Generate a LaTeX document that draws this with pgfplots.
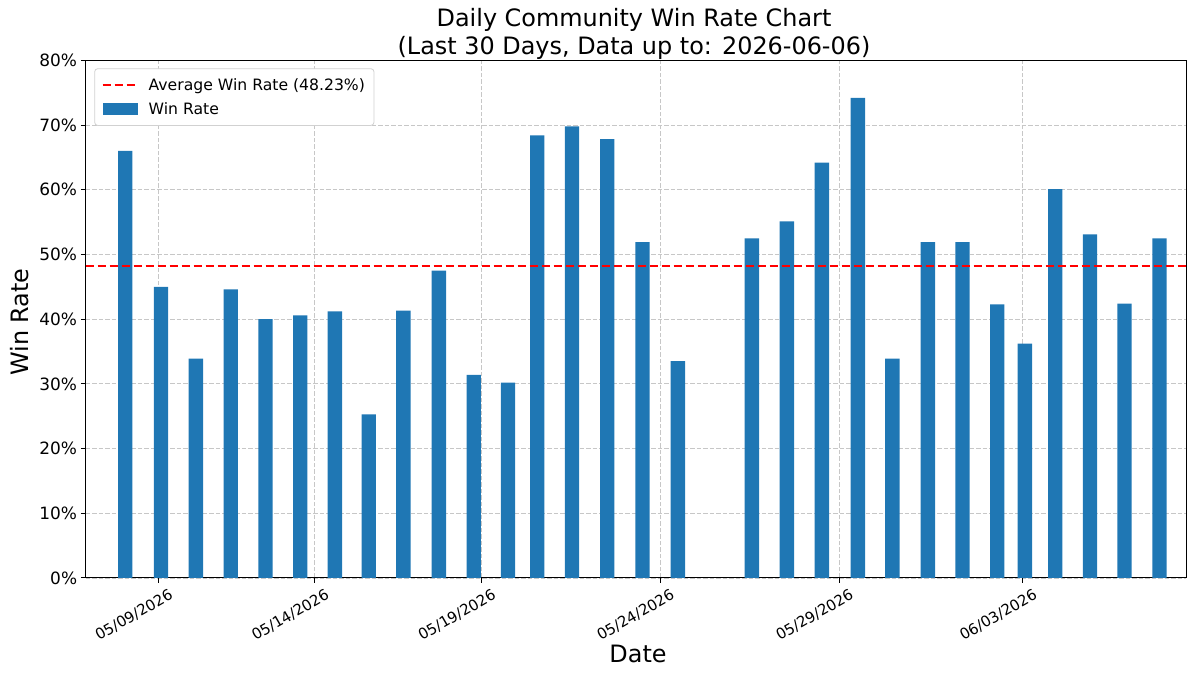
\documentclass[border=0pt]{standalone}
\usepackage{fontspec}
\setmainfont{DejaVu Sans}
\usepackage{pgfplots}
\pgfplotsset{compat=1.18}
\definecolor{barblue}{HTML}{1F77B4}
\begin{document}
\begin{tikzpicture}
\path[use as bounding box] (0,0) rectangle (1200bp,675bp);
\begin{axis}[
  at={(85.7bp,97bp)}, anchor=south west,
  scale only axis, width=1100.3bp, height=517.7bp,
  xmin=85.7, xmax=1186, ymin=0, ymax=80,
  axis line style={line width=1bp, black},
  xtick={158.3,314.7,481.3,660,839,1022.7},
  xticklabels={05/09/2026,05/14/2026,05/19/2026,05/24/2026,05/29/2026,06/03/2026},
  ytick={0,10,20,30,40,50,60,70,80},
  yticklabels={0\%,10\%,20\%,30\%,40\%,50\%,60\%,70\%,80\%},
  xtick pos=left, ytick pos=left,
  tick align=outside, major tick length=4.9bp,
  tick style={line width=1bp, black},
  yticklabel style={font=\fontsize{17}{20}\selectfont, inner sep=0pt, anchor=east, xshift=-3.5bp},
  xticklabel style={font=\fontsize{15}{18}\selectfont, inner sep=0pt, xshift=10bp, yshift=-5bp, rotate=30, anchor=north east},
  grid=major,
  major grid style={dash pattern=on 4.5bp off 2bp, color=black!22, line width=0.8bp},
  clip=false,
  reverse legend,
  legend cell align=left,
  legend style={at={(0,1)}, anchor=north west, xshift=8.6bp, yshift=-8bp,
    draw=black!18, line width=0.8bp, rounded corners=3bp,
    font=\fontsize{15.7}{18}\selectfont,
    inner xsep=7bp, inner ysep=7.5bp, row sep=7bp,
    /tikz/every odd column/.append style={column sep=8bp}},
]
% x = horizontal position of each day's bar, y = win rate in percent
\addplot[ybar, bar width=14.4, fill=barblue, draw=none,
  legend image code/.code={\fill[barblue, sharp corners] (0bp,-5.8bp) rectangle (35bp,5.8bp);}]
coordinates {
(125.2,66.0) (161.0,45.0) (195.8,33.9) (230.7,44.6) (265.5,40.0)
(300.2,40.6) (334.8,41.2) (368.7,25.3) (403.3,41.3) (438.8,47.5)
(473.7,31.4) (508.0,30.2) (537.2,68.4) (572.0,69.8) (607.2,67.8)
(642.5,51.9) (677.8,33.5) (751.8,52.5) (786.8,55.1) (821.8,64.2)
(857.8,74.2) (892.4,33.9) (927.8,51.9) (962.5,51.9) (997.2,42.3)
(1024.8,36.2) (1055.2,60.1) (1090.0,53.1) (1124.5,42.4) (1159.5,52.5)
};
\addlegendentry{Win Rate}
\addplot[red, line width=2bp, dash pattern=on 8.5bp off 3.5bp,
  legend image code/.code={\draw[red, sharp corners, line width=2bp, dash pattern=on 8.5bp off 3.5bp] (0bp,0bp) -- (35bp,0bp);}]
coordinates {(85.7,48.23) (1186,48.23)};
\addlegendentry{Average Win Rate (48.23\%)}
\end{axis}
\node[anchor=base, font=\fontsize{24}{28}\selectfont] at (634bp,648.3bp) {Daily Community Win Rate Chart};
\node[anchor=base, font=\fontsize{24}{28}\selectfont] at (634bp,620bp) {(Last 30 Days, Data up to: 2026-06-06)};
\node[anchor=base, font=\fontsize{24}{28}\selectfont] at (638bp,12.3bp) {Date};
\node[anchor=base, rotate=90, font=\fontsize{24}{28}\selectfont] at (28.3bp,353bp) {Win Rate};
\end{tikzpicture}
\end{document}
